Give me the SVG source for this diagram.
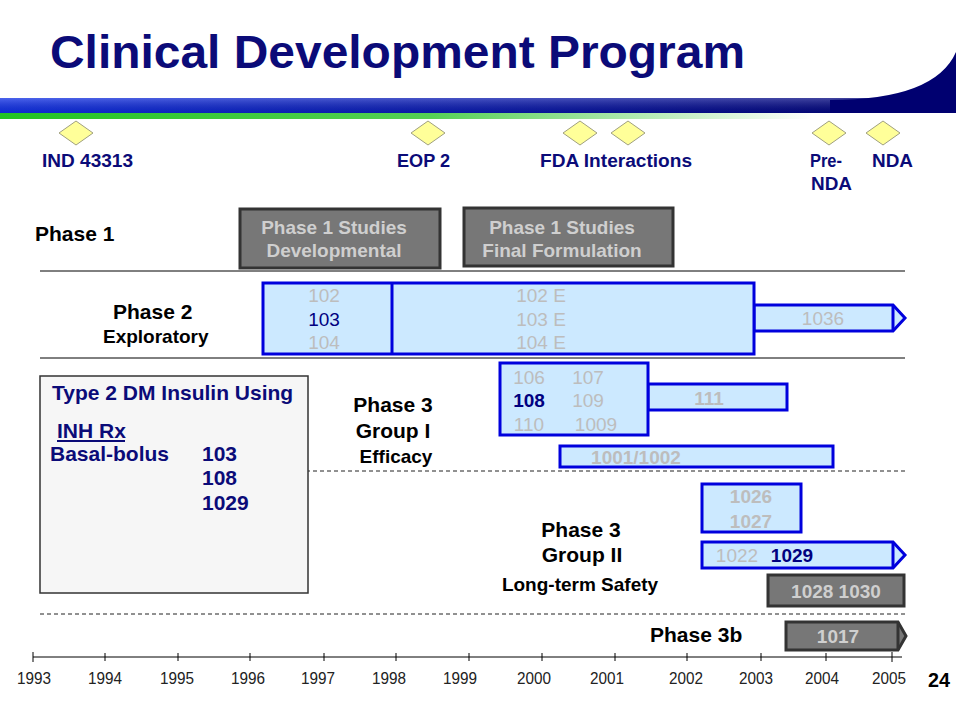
<svg xmlns="http://www.w3.org/2000/svg" width="960" height="720" viewBox="0 0 960 720">
<defs>
<linearGradient id="blueBand" x1="0" y1="0" x2="1" y2="0">
<stop offset="0" stop-color="#1030e8"/>
<stop offset="0.5" stop-color="#0a1ab0"/>
<stop offset="1" stop-color="#000070"/>
</linearGradient>
<linearGradient id="blueShade" x1="0" y1="0" x2="0" y2="1">
<stop offset="0" stop-color="#ffffff" stop-opacity="0.25"/>
<stop offset="1" stop-color="#000000" stop-opacity="0.1"/>
</linearGradient>
<linearGradient id="greenBand" x1="0" y1="0" x2="1" y2="0">
<stop offset="0" stop-color="#22c322"/>
<stop offset="0.45" stop-color="#55d055"/>
<stop offset="0.85" stop-color="#ffffff"/>
</linearGradient>
<style>
.title{font-family:"Liberation Sans",Arial,sans-serif;font-weight:bold;font-size:47px;fill:#0b0b78}
.ms{font-family:"Liberation Sans",Arial,sans-serif;font-weight:bold;font-size:18px;fill:#0b0b78}
.dia{fill:#ffff99;stroke:#a0a080;stroke-width:1}
.lbl{font-family:"Liberation Sans",Arial,sans-serif;font-weight:bold;font-size:21px;fill:#000}
.lbls{font-family:"Liberation Sans",Arial,sans-serif;font-weight:bold;font-size:19px;fill:#000}
.gbox{fill:#777777;stroke:#333333;stroke-width:3}
.gtxt{font-family:"Liberation Sans",Arial,sans-serif;font-weight:bold;font-size:19px;fill:#cfcfcf;text-anchor:middle}
.bbox{fill:#cce9ff;stroke:#0000dd;stroke-width:3}
.lt{font-family:"Liberation Sans",Arial,sans-serif;font-size:19px;fill:#bdbdbd;text-anchor:middle}
.nv{font-family:"Liberation Sans",Arial,sans-serif;font-size:19px;fill:#000080;text-anchor:middle}
.side{font-family:"Liberation Sans",Arial,sans-serif;font-weight:bold;font-size:21px;fill:#0b0b78}
.yr{font-family:"Liberation Sans",Arial,sans-serif;font-size:16px;fill:#222;text-anchor:middle}
.rule{stroke:#000;stroke-width:1}
.dash{stroke:#222;stroke-width:1;stroke-dasharray:4 3}
</style>
</defs>

<rect width="960" height="720" fill="#ffffff"/>

<g id="header">
<rect x="0" y="98" width="956" height="15" fill="url(#blueBand)"/>
<rect x="0" y="98" width="956" height="15" fill="url(#blueShade)"/>
<path d="M 830,100 Q 935,100 956,52 L 956,113 L 830,113 Z" fill="#000070"/>
<rect x="0" y="113" width="956" height="6" fill="url(#greenBand)"/>
<text class="title" x="50" y="68" textLength="695" lengthAdjust="spacingAndGlyphs">Clinical Development Program</text>
</g>

<g id="milestones">
<polygon class="dia" points="59,133 76,121 93,133 76,145"/>
<polygon class="dia" points="411,133 428,121 445,133 428,145"/>
<polygon class="dia" points="563,133 580,121 597,133 580,145"/>
<polygon class="dia" points="611,133 628,121 645,133 628,145"/>
<polygon class="dia" points="812,133 829,121 846,133 829,145"/>
<polygon class="dia" points="866,133 883,121 900,133 883,145"/>
<text class="ms" x="42" y="167" textLength="91" lengthAdjust="spacingAndGlyphs">IND 43313</text>
<text class="ms" x="397" y="167" textLength="53" lengthAdjust="spacingAndGlyphs">EOP 2</text>
<text class="ms" x="540" y="167" textLength="152" lengthAdjust="spacingAndGlyphs">FDA Interactions</text>
<text class="ms" x="810" y="167" textLength="32" lengthAdjust="spacingAndGlyphs">Pre-</text>
<text class="ms" x="811" y="190" textLength="41" lengthAdjust="spacingAndGlyphs">NDA</text>
<text class="ms" x="872" y="167" textLength="41" lengthAdjust="spacingAndGlyphs">NDA</text>
</g>

<g id="rules">
<line class="rule" x1="40" y1="271" x2="905" y2="271"/>
<line class="rule" x1="40" y1="358" x2="905" y2="358"/>
<line class="dash" x1="40" y1="471" x2="905" y2="471"/>
<line class="dash" x1="40" y1="614" x2="905" y2="614"/>
</g>

<g id="phase1">
<text class="lbl" x="35" y="241">Phase 1</text>
<rect class="gbox" x="240" y="209" width="200" height="59"/>
<text class="gtxt" x="334" y="234">Phase 1 Studies</text>
<text class="gtxt" x="334" y="257">Developmental</text>
<rect class="gbox" x="464" y="208" width="209" height="58"/>
<text class="gtxt" x="562" y="234">Phase 1 Studies</text>
<text class="gtxt" x="562" y="257">Final Formulation</text>
</g>

<g id="phase2">
<text class="lbl" x="113" y="319">Phase 2</text>
<text class="lbls" x="103" y="343">Exploratory</text>
<path class="bbox" d="M 754,305 L 893,305 L 905,318 L 893,331 L 754,331 Z"/>
<line x1="893" y1="305" x2="893" y2="331" stroke="#0000dd" stroke-width="3"/>
<text class="lt" x="823" y="325">1036</text>
<rect class="bbox" x="263" y="283" width="491" height="71"/>
<line x1="392" y1="283" x2="392" y2="354" stroke="#0000dd" stroke-width="3"/>
<text class="lt" x="324" y="302">102</text>
<text class="nv" x="324" y="326">103</text>
<text class="lt" x="324" y="349">104</text>
<text class="lt" x="541" y="302">102 E</text>
<text class="lt" x="541" y="326">103 E</text>
<text class="lt" x="541" y="349">104 E</text>
</g>

<g id="insulin-box">
<rect x="40" y="376" width="268" height="217" fill="#f6f6f6" stroke="#333" stroke-width="1.5"/>
<text class="side" x="52" y="400">Type 2 DM Insulin Using</text>
<text class="side" x="57" y="438">INH Rx</text>
<line x1="57" y1="441" x2="125" y2="441" stroke="#0b0b78" stroke-width="2"/>
<text class="side" x="50" y="461">Basal-bolus</text>
<text class="side" x="202" y="461">103</text>
<text class="side" x="202" y="485">108</text>
<text class="side" x="202" y="510">1029</text>
</g>

<g id="phase3-group1">
<text class="lbl" x="393" y="412" text-anchor="middle">Phase 3</text>
<text class="lbl" x="393" y="438" text-anchor="middle">Group I</text>
<text class="lbls" x="396" y="463" text-anchor="middle">Efficacy</text>
<rect class="bbox" x="648" y="384" width="139" height="26"/>
<text class="lt" x="709" y="405" style="font-weight:bold">111</text>
<rect class="bbox" x="500" y="363" width="148" height="72"/>
<text class="lt" x="529" y="384">106</text>
<text class="lt" x="588" y="384">107</text>
<text class="nv" x="529" y="407" style="font-weight:bold">108</text>
<text class="lt" x="588" y="407">109</text>
<text class="lt" x="529" y="431">110</text>
<text class="lt" x="596" y="431">1009</text>
<rect class="bbox" x="560" y="446" width="273" height="21"/>
<text class="lt" x="636" y="464" style="font-weight:bold">1001/1002</text>
</g>

<g id="phase3-group2">
<text class="lbl" x="581" y="537" text-anchor="middle">Phase 3</text>
<text class="lbl" x="582" y="562" text-anchor="middle">Group II</text>
<text class="lbls" x="580" y="591" text-anchor="middle">Long-term Safety</text>
<rect class="bbox" x="702" y="484" width="99" height="48"/>
<text class="lt" x="751" y="503" style="font-weight:bold">1026</text>
<text class="lt" x="751" y="528" style="font-weight:bold">1027</text>
<path class="bbox" d="M 702,542 L 893,542 L 905,555 L 893,568 L 702,568 Z"/>
<line x1="893" y1="542" x2="893" y2="568" stroke="#0000dd" stroke-width="3"/>
<text class="lt" x="737" y="562">1022</text>
<text class="nv" x="792" y="562" style="font-weight:bold">1029</text>
<rect class="gbox" x="768" y="575" width="136" height="31"/>
<text class="gtxt" x="836" y="598">1028 1030</text>
</g>

<g id="phase3b">
<text class="lbl" x="650" y="642">Phase 3b</text>
<path class="gbox" d="M 786,622 L 898,622 L 906,636 L 898,650 L 786,650 Z"/>
<line x1="898" y1="622" x2="898" y2="650" stroke="#333" stroke-width="3"/>
<text class="gtxt" x="838" y="643">1017</text>
</g>

<g id="timeline">
<line class="rule" x1="33" y1="657" x2="902" y2="657"/>
<g stroke="#000" stroke-width="1">
<line x1="33" y1="652" x2="33" y2="662"/>
<line x1="105" y1="653" x2="105" y2="661"/>
<line x1="178" y1="653" x2="178" y2="661"/>
<line x1="250" y1="653" x2="250" y2="661"/>
<line x1="324" y1="653" x2="324" y2="661"/>
<line x1="396" y1="653" x2="396" y2="661"/>
<line x1="469" y1="653" x2="469" y2="661"/>
<line x1="542" y1="653" x2="542" y2="661"/>
<line x1="615" y1="653" x2="615" y2="661"/>
<line x1="687" y1="653" x2="687" y2="661"/>
<line x1="761" y1="653" x2="761" y2="661"/>
<line x1="826" y1="653" x2="826" y2="661"/>
<line x1="892" y1="652" x2="892" y2="662"/>
</g>
<text class="yr" x="34" y="684" textLength="34" lengthAdjust="spacingAndGlyphs">1993</text>
<text class="yr" x="105" y="684" textLength="34" lengthAdjust="spacingAndGlyphs">1994</text>
<text class="yr" x="177" y="684" textLength="34" lengthAdjust="spacingAndGlyphs">1995</text>
<text class="yr" x="248" y="684" textLength="34" lengthAdjust="spacingAndGlyphs">1996</text>
<text class="yr" x="318" y="684" textLength="34" lengthAdjust="spacingAndGlyphs">1997</text>
<text class="yr" x="389" y="684" textLength="34" lengthAdjust="spacingAndGlyphs">1998</text>
<text class="yr" x="460" y="684" textLength="34" lengthAdjust="spacingAndGlyphs">1999</text>
<text class="yr" x="534" y="684" textLength="34" lengthAdjust="spacingAndGlyphs">2000</text>
<text class="yr" x="607" y="684" textLength="34" lengthAdjust="spacingAndGlyphs">2001</text>
<text class="yr" x="686" y="684" textLength="34" lengthAdjust="spacingAndGlyphs">2002</text>
<text class="yr" x="756" y="684" textLength="34" lengthAdjust="spacingAndGlyphs">2003</text>
<text class="yr" x="822" y="684" textLength="34" lengthAdjust="spacingAndGlyphs">2004</text>
<text class="yr" x="889" y="684" textLength="34" lengthAdjust="spacingAndGlyphs">2005</text>
</g>

<text x="928" y="687" font-family="Liberation Sans,Arial,sans-serif" font-weight="bold" font-size="20" fill="#000" textLength="22" lengthAdjust="spacingAndGlyphs">24</text>
</svg>
